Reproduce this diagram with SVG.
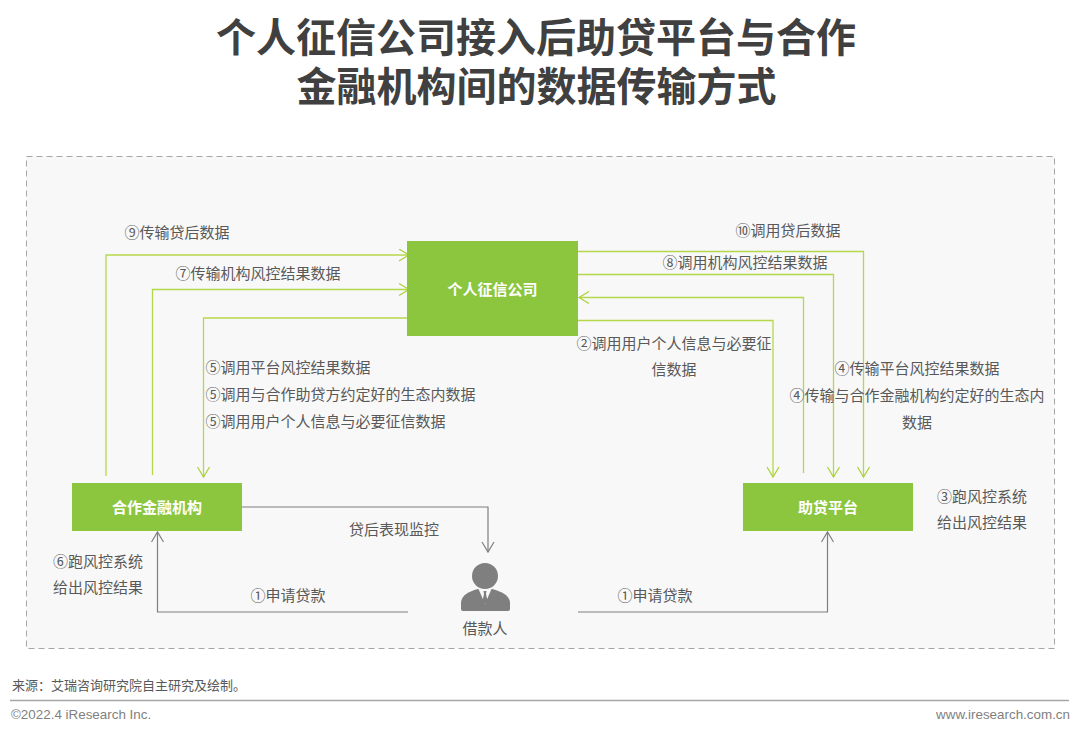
<svg xmlns="http://www.w3.org/2000/svg" width="1080" height="735" viewBox="0 0 1080 735">
<style>
text{font-family:"Liberation Sans","Noto Sans CJK SC",sans-serif;fill:#595959;font-size:15px}
.title{font-family:"Noto Sans CJK SC",sans-serif;font-size:40px;font-weight:700;fill:#404040;text-anchor:middle}
.node{fill:#8cc63f}
.nl{font-family:"Noto Sans CJK SC",sans-serif;font-size:15px;font-weight:700;fill:#fff;text-anchor:middle}
.m{text-anchor:middle}
.g{fill:none;stroke:#b5d84a;stroke-width:1.3}
.k{fill:none;stroke:#7f7f7f;stroke-width:1.2}
.f{font-size:13.4px;fill:#7f7f7f}
</style>
<defs>
<marker id="ag" markerUnits="userSpaceOnUse" markerWidth="14" markerHeight="14" refX="11" refY="6.500" orient="auto"><path d="M1 .5L11 6.500L1 12.500" fill="none" stroke="#a8d238" stroke-width="1.2"/></marker>
<marker id="ak" markerUnits="userSpaceOnUse" markerWidth="14" markerHeight="14" refX="11" refY="6.500" orient="auto"><path d="M1 .5L11 6.500L1 12.500" fill="none" stroke="#7f7f7f" stroke-width="1.2"/></marker>
</defs>
<rect width="1080" height="735" fill="#fff"/>
<text class="title" x="536" y="52">个人征信公司接入后助贷平台与合作</text>
<text class="title" x="536.500" y="101">金融机构间的数据传输方式</text>
<rect x="26.500" y="156.500" width="1028" height="492" fill="#f8f8f8" stroke="#a6a6a6" stroke-dasharray="6 4"/>
<g id="connectors">
<path class="g" marker-end="url(#ag)" d="M106 476V255H409"/>
<path class="g" marker-end="url(#ag)" d="M152.500 475V289.500H409"/>
<path class="g" marker-end="url(#ag)" d="M408 318H203.500V477"/>
<path class="g" marker-end="url(#ag)" d="M578 251.500H863.500V477"/>
<path class="g" marker-end="url(#ag)" d="M578 274.500H833.500V477"/>
<path class="g" marker-end="url(#ag)" d="M803.500 473V297.500H579"/>
<path class="g" marker-end="url(#ag)" d="M578 320.500H773V477"/>
<path class="k" marker-end="url(#ak)" d="M242 507H488V552"/>
<path class="k" marker-end="url(#ak)" d="M408 612H157.500V532"/>
<path class="k" marker-end="url(#ak)" d="M578 612H827.500V532"/>
</g>
<g id="credit"><rect class="node" x="407" y="241" width="171" height="95"/><text class="nl" x="492.500" y="295">个人征信公司</text></g>
<g id="institution"><rect class="node" x="72" y="483" width="170" height="48"/><text class="nl" x="157" y="513">合作金融机构</text></g>
<g id="platform"><rect class="node" x="743" y="483" width="170" height="48"/><text class="nl" x="828" y="513">助贷平台</text></g>
<g id="borrower">
<circle cx="485" cy="576" r="13" fill="#7f7f7f"/>
<path d="M461 609V603C461 595 470 591 478 589H492C500 591 510 595 510 603V609Q510 611 508 611H463Q461 611 461 609Z" fill="#7f7f7f"/>
<path d="M478.500 589H491.500L485 604Z" fill="#f8f8f8"/>
<path d="M483.500 591H486.500L486 594L487.500 601L485 604L482.500 601L484 594Z" fill="#7f7f7f"/>
<text class="m" x="485" y="634">借款人</text>
</g>
<g id="labels" transform="translate(.5 0)">
<text x="124" y="238">⑨传输贷后数据</text>
<text x="175" y="279">⑦传输机构风控结果数据</text>
<text x="205" y="373">⑤调用平台风控结果数据</text>
<text x="205" y="400">⑤调用与合作助贷方约定好的生态内数据</text>
<text x="205" y="427">⑤调用用户个人信息与必要征信数据</text>
<text x="735" y="236">⑩调用贷后数据</text>
<text x="662" y="268">⑧调用机构风控结果数据</text>
<text x="576" y="349">②调用用户个人信息与必要征</text>
<text class="m" x="673.500" y="375">信数据</text>
<text x="834" y="374">④传输平台风控结果数据</text>
<text x="789" y="401">④传输与合作金融机构约定好的生态内</text>
<text class="m" x="916.500" y="428">数据</text>
<text x="936.500" y="502">③跑风控系统</text>
<text x="936.500" y="528">给出风控结果</text>
<text x="52.500" y="567">⑥跑风控系统</text>
<text x="52.500" y="593">给出风控结果</text>
<text x="348.500" y="535">贷后表现监控</text>
<text x="250" y="601">①申请贷款</text>
<text x="617" y="601">①申请贷款</text>
</g>
<g id="footer">
<text x="12" y="690" style="font-size:13px">来源：艾瑞咨询研究院自主研究及绘制。</text>
<path d="M10 700.500H1069" stroke="#a6a6a6" stroke-width="1.3"/>
<text class="f" x="11" y="719">©2022.4 iResearch Inc.</text>
<text class="f" x="1070" y="719" text-anchor="end">www.iresearch.com.cn</text>
</g>
</svg>
